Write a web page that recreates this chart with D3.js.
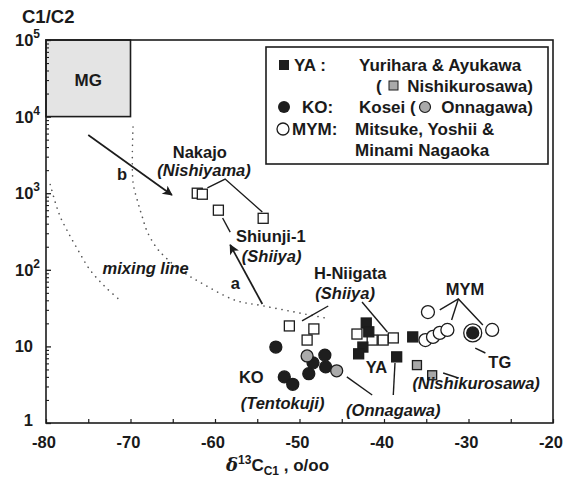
<!DOCTYPE html>
<html><head><meta charset="utf-8">
<script src="https://cdn.jsdelivr.net/npm/d3@7/dist/d3.min.js"></script>
<style>
html,body{margin:0;padding:0;background:#fff;}
svg text{font-family:"Liberation Sans",Arial,Helvetica,sans-serif;font-weight:bold;fill:#1a1a1a;}
</style></head>
<body><svg id="c" width="569" height="481"></svg>
<script>
// ---------- data (x = δ13C of C1 in ‰, y = C1/C2 ratio) ----------
const xTicks = [-80, -70, -60, -50, -40, -30, -20];
const yTicks = [1, 10, 100, 1000, 10000, 100000];
const mgBox = [[-80, 10000], [-70, 100000]];

const nakajoX = [-62.1, -61.5, -59.6, -54.3];
const nakajoY = [1000, 970, 600, 470];

const hNiigataX = [-51.2, -48.3, -49.1, -43.2, -41.4, -40.1, -38.9];
const hNiigataY = [18.5, 16.9, 12.1, 14.5, 12.1, 12.1, 12.9];

const yaX = [-42.1, -41.8, -42.5, -43.0, -38.5, -36.6];
const yaY = [20.2, 15.5, 9.8, 8.0, 7.3, 13.3];

const nishikurosawaX = [-36.1, -34.3];
const nishikurosawaY = [5.7, 4.2];

const koX = [-52.8, -51.8, -50.8, -48.4, -48.9, -47.0, -46.9];
const koY = [9.8, 4.0, 3.2, 6.1, 4.4, 7.7, 5.4];

const onnagawaX = [-49.1, -45.6];
const onnagawaY = [7.5, 4.8];

const mymX = [-34.8, -35.1, -34.2, -33.4, -32.5, -27.2];
const mymY = [28.1, 12.1, 13.3, 15.0, 16.4, 16.4];

const tgX = [-29.5];
const tgY = [15.0];

// mixing lines (dotted)
const mix1X = [-79.5, -78.9, -78.3, -77.4, -76.2, -74.8, -73.0, -71.0];
const mix1Y = [1300, 760, 490, 310, 180, 100, 60, 38];
const mix2X = [-69.7, -69.7, -69.1, -68.6, -68.0, -66.9, -65.9, -64.1, -61.8, -57.6, -54.4, -50.5, -46.5];
const mix2Y = [7300, 1400, 745, 489, 311, 193, 147, 99, 69, 40, 34, 28, 23];

// arrows a and b
const arrowA = [[-54.4, 35.8], [-58.2, 211]];
const arrowB = [[-75.0, 5750], [-65.1, 948]];

// annotation texts: [text, x, y, italic]
const labels = [
  ["MG", -75.0, 30000, false],
  ["Nakajo", -61.8, 3450, false],
  ["(Nishiyama)", -61.3, 2010, true],
  ["Shiunji-1", -53.4, 276, false],
  ["(Shiiya)", -53.3, 151, true],
  ["mixing line", -68.2, 106, true],
  ["a", -57.6, 67, false],
  ["b", -71.0, 1780, false],
  ["H-Niigata", -44.0, 91, false],
  ["(Shiiya)", -44.6, 50, true],
  ["MYM", -30.4, 56, false],
  ["TG", -26.3, 6.25, false],
  ["(Nishikurosawa)", -29.1, 3.33, true],
  ["YA", -40.9, 5.4, false],
  ["(Onnagawa)", -38.9, 1.48, true],
  ["KO", -55.7, 4.0, false],
  ["(Tentokuji)", -52.0, 1.82, true]
];

// leader lines
const leaders = [
  [[-60.9, 1170], [-58.8, 1532], [-54.4, 568]],
  [[-59.1, 474], [-58.2, 311]],
  [[-46.6, 33.7], [-49.7, 21.5]],
  [[-42.6, 38], [-39.6, 15.4]],
  [[-33.4, 29.9], [-31.2, 41.6], [-28.3, 19]],
  [[-31.2, 41.6], [-32.0, 22.1]],
  [[-29.2, 9.5], [-28.0, 8.2]],
  [[-33.0, 4.5], [-31.2, 3.87]],
  [[-38.7, 6.07], [-38.9, 2.32]],
  [[-44.4, 4.0], [-41.4, 2.32]]
];

// ---------- drawing ----------
const svg = d3.select("#c");
const ink = "#1c1c1c";
const L = 46, R = 553, T = 40, B = 423;
const x = d3.scaleLinear().domain([-80, -20]).range([L, R]);
const y = d3.scaleLog().domain([1, 100000]).range([B, T]);

svg.append("rect").attr("width", 569).attr("height", 481).attr("fill", "#fff");

// MG box
svg.append("rect")
  .attr("x", x(mgBox[0][0])).attr("y", y(mgBox[1][1]))
  .attr("width", x(mgBox[1][0]) - x(mgBox[0][0]))
  .attr("height", y(mgBox[0][1]) - y(mgBox[1][1]))
  .attr("fill", "#e4e4e4").attr("stroke", ink).attr("stroke-width", 1.6);

// frame
svg.append("rect").attr("x", L).attr("y", T).attr("width", R - L).attr("height", B - T)
  .attr("fill", "none").attr("stroke", ink).attr("stroke-width", 1.6);

// axes
const xAxis = d3.axisBottom(x).tickValues(d3.range(-80, -19, 5)).tickSize(-4).tickFormat("");
svg.append("g").attr("transform", `translate(0,${B})`).call(xAxis)
  .call(g => g.select(".domain").remove())
  .call(g => g.selectAll("line").attr("stroke", ink).attr("stroke-width", 1.2));
const minor = [];
for (let e = 0; e < 5; e++) for (let m = 2; m <= 9; m++) minor.push(m * Math.pow(10, e));
const yAxisMinor = d3.axisLeft(y).tickValues(minor).tickSize(-3).tickFormat("");
svg.append("g").attr("transform", `translate(${L},0)`).call(yAxisMinor)
  .call(g => g.select(".domain").remove())
  .call(g => g.selectAll("line").attr("stroke", ink).attr("stroke-width", 1.1));
const yAxisMajor = d3.axisLeft(y).tickValues(yTicks).tickSize(-5).tickFormat("");
svg.append("g").attr("transform", `translate(${L},0)`).call(yAxisMajor)
  .call(g => g.select(".domain").remove())
  .call(g => g.selectAll("line").attr("stroke", ink).attr("stroke-width", 1.3));

// x tick labels
svg.append("g").selectAll("text").data(xTicks).join("text")
  .attr("x", d => x(d) - 2).attr("y", B + 25)
  .attr("text-anchor", "middle").attr("font-size", 16.5).text(d => d);

// y tick labels
yTicks.forEach(v => {
  const e = Math.round(Math.log10(v));
  const t = svg.append("text").attr("y", y(v) + 6).attr("font-size", 16.5);
  if (e === 0) { t.attr("x", 33).attr("text-anchor", "end").attr("y", y(v) + 3).text("1"); }
  else if (e === 1) { t.attr("x", 33).attr("text-anchor", "end").text("10"); }
  else {
    t.attr("x", 15).text("10");
    t.append("tspan").attr("dy", -8).attr("font-size", 12).text(e);
  }
});

// y title
svg.append("text").attr("x", 22).attr("y", 23).attr("font-size", 18.5).text("C1/C2");
// x title
const xt = svg.append("text").attr("x", 226).attr("y", 471).attr("font-size", 17);
xt.append("tspan").attr("font-style", "italic").attr("font-family", "DejaVu Serif, serif").attr("font-size", 18).text("δ");
xt.append("tspan").attr("dy", -7).attr("font-size", 12).text("13");
xt.append("tspan").attr("dy", 7).text("C");
xt.append("tspan").attr("dy", 4).attr("font-size", 12).text("C1");
xt.append("tspan").attr("dy", -4).text(" , o/oo");

// mixing lines
const line = d3.line().x(d => x(d[0])).y(d => y(d[1])).curve(d3.curveCatmullRom);
[[mix1X, mix1Y], [mix2X, mix2Y]].forEach(([xs, ys]) => {
  svg.append("path").datum(xs.map((v, i) => [v, ys[i]])).attr("d", line)
    .attr("fill", "none").attr("stroke", "#555").attr("stroke-width", 1.6)
    .attr("stroke-linecap", "round").attr("stroke-dasharray", "0.1,6");
});

// leaders
const lp = d3.line().x(d => x(d[0])).y(d => y(d[1]));
leaders.forEach(p => svg.append("path").attr("d", lp(p)).attr("fill", "none")
  .attr("stroke", ink).attr("stroke-width", 1.4));

// arrows
svg.append("defs").append("marker").attr("id", "ah").attr("viewBox", "0 0 10 10")
  .attr("refX", 9).attr("refY", 5).attr("markerWidth", 14).attr("markerHeight", 10)
  .attr("markerUnits", "userSpaceOnUse").attr("orient", "auto")
  .append("path").attr("d", "M0,0 L10,5 L0,10 L2.5,5 Z").attr("fill", ink);
[arrowA, arrowB].forEach(a => svg.append("path").attr("d", lp(a))
  .attr("stroke", ink).attr("stroke-width", 1.7).attr("marker-end", "url(#ah)"));

// points
function squares(xs, ys, fill, s) {
  svg.append("g").selectAll("rect").data(xs.map((v, i) => [v, ys[i]])).join("rect")
    .attr("x", d => x(d[0]) - s / 2).attr("y", d => y(d[1]) - s / 2)
    .attr("width", s).attr("height", s)
    .attr("fill", fill).attr("stroke", ink).attr("stroke-width", 1.3);
}
function circles(xs, ys, fill, r) {
  svg.append("g").selectAll("circle").data(xs.map((v, i) => [v, ys[i]])).join("circle")
    .attr("cx", d => x(d[0])).attr("cy", d => y(d[1])).attr("r", r)
    .attr("fill", fill).attr("stroke", ink).attr("stroke-width", 1.3);
}
squares(nakajoX, nakajoY, "#fff", 10);
squares(hNiigataX, hNiigataY, "#fff", 10);
squares(yaX, yaY, "#1e1e1e", 10);
squares(nishikurosawaX, nishikurosawaY, "#a8a8a8", 9);
circles(koX, koY, "#1e1e1e", 6);
circles(onnagawaX, onnagawaY, "#aaa", 6);
circles(mymX, mymY, "#fff", 6.5);
circles(tgX, tgY, "#fff", 9);
circles(tgX, tgY, "#1e1e1e", 6);

// labels
labels.forEach(([t, lx, ly, it]) => {
  svg.append("text").attr("x", x(lx)).attr("y", y(ly)).attr("dy", "0.35em")
    .attr("text-anchor", "middle").attr("font-size", t === "MG" ? 17 : 16.5)
    .attr("font-style", it ? "italic" : "normal").text(t);
});

// legend
const lg = svg.append("g");
lg.append("rect").attr("x", 266).attr("y", 47).attr("width", 282).attr("height", 117)
  .attr("fill", "#fff").attr("stroke", ink).attr("stroke-width", 1.6);
const fs = 17;
const rowY = [71, 92, 113, 135, 156];
lg.append("rect").attr("x", 279).attr("y", rowY[0] - 11).attr("width", 10).attr("height", 10).attr("fill", "#1e1e1e");
lg.append("text").attr("x", 294).attr("y", rowY[0]).attr("font-size", fs).text("YA :");
lg.append("text").attr("x", 359).attr("y", rowY[0]).attr("font-size", fs).text("Yurihara & Ayukawa");
lg.append("text").attr("x", 376).attr("y", rowY[1]).attr("font-size", fs).text("(\u2002\u2003Nishikurosawa)");
lg.append("rect").attr("x", 389).attr("y", rowY[1] - 11).attr("width", 9).attr("height", 9)
  .attr("fill", "#aaa").attr("stroke", ink).attr("stroke-width", 1);
lg.append("circle").attr("cx", 284).attr("cy", rowY[2] - 6).attr("r", 6).attr("fill", "#1e1e1e");
lg.append("text").attr("x", 302).attr("y", rowY[2]).attr("font-size", fs).text("KO:");
lg.append("text").attr("x", 359).attr("y", rowY[2]).attr("font-size", fs).text("Kosei (\u2002\u2003Onnagawa)");
lg.append("circle").attr("cx", 425).attr("cy", rowY[2] - 6).attr("r", 5.5).attr("fill", "#aaa")
  .attr("stroke", ink).attr("stroke-width", 1.2);
lg.append("circle").attr("cx", 283).attr("cy", rowY[3] - 6).attr("r", 6).attr("fill", "#fff")
  .attr("stroke", ink).attr("stroke-width", 1.3);
lg.append("text").attr("x", 292).attr("y", rowY[3]).attr("font-size", fs).text("MYM:");
lg.append("text").attr("x", 355).attr("y", rowY[3]).attr("font-size", fs).text("Mitsuke, Yoshii &");
lg.append("text").attr("x", 355).attr("y", rowY[4]).attr("font-size", fs).text("Minami Nagaoka");
</script></body></html>
